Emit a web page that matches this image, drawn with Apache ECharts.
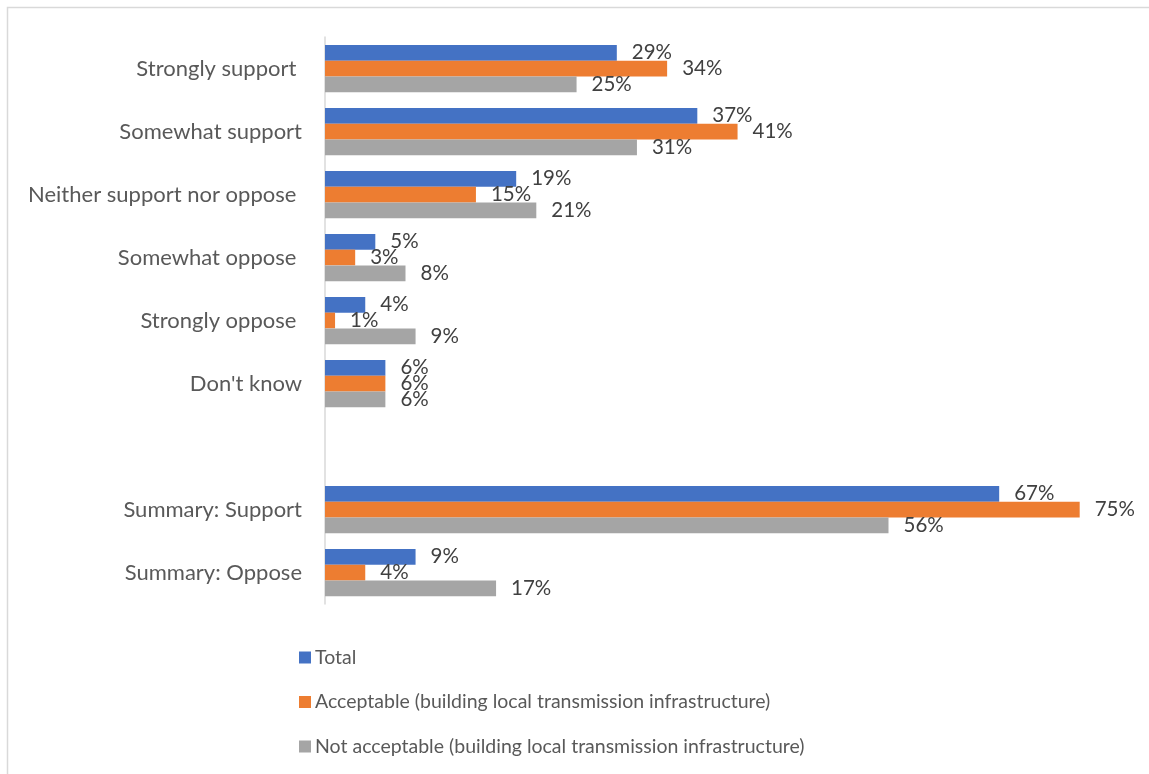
<!DOCTYPE html>
<html>
<head>
<meta charset="utf-8">
<script src="https://cdn.jsdelivr.net/npm/echarts@6/dist/echarts.min.js"></script>
<style>
  html, body { margin: 0; padding: 0; background: #ffffff; }
  #chart { width: 1149px; height: 774px; }
</style>
</head>
<body>
<div id="chart"></div>
<script>
// Survey answers, top to bottom; the empty entry spaces the summary rows apart
const categories = [
  'Strongly support ',
  'Somewhat support',
  'Neither support nor oppose ',
  'Somewhat oppose ',
  'Strongly oppose ',
  "Don't know",
  '',
  'Summary: Support',
  'Summary: Oppose'
];

const seriesNames = [
  'Total',
  'Acceptable (building local transmission infrastructure)',
  'Not acceptable (building local transmission infrastructure)'
];

// Percentages per answer, same order as categories (null = spacer row)
const totalValues        = [29, 37, 19, 5, 4, 6, null, 67, 9];
const acceptableValues   = [34, 41, 15, 3, 1, 6, null, 75, 4];
const notAcceptableValues = [25, 31, 21, 8, 9, 6, null, 56, 17];

const seriesColors = ['#4472C4', '#ED7D31', '#A5A5A5'];

const FONT = 'Lato, "Open Sans", sans-serif';

const chart = echarts.init(document.getElementById('chart'), null, { renderer: 'canvas' });

function barSeries(name, values, color) {
  return {
    name: name,
    type: 'bar',
    data: values.map(v => (v === null ? '-' : v)),
    barGap: '0%',
    barCategoryGap: '25%',
    itemStyle: { color: color },
    label: {
      show: true,
      position: 'right',
      distance: 15,
      formatter: p => p.value + '%',
      color: '#404040',
      fontFamily: FONT,
      fontSize: 20.5
    },
    emphasis: { disabled: true },
    animation: false
  };
}

chart.setOption({
  animation: false,
  backgroundColor: '#ffffff',
  graphic: [{
    type: 'rect',
    shape: { x: 7.5, y: 7.5, width: 1200, height: 800 },
    style: { fill: 'none', stroke: '#D9D9D9', lineWidth: 1.5 },
    silent: true,
    z: -1
  }],
  grid: { left: 325, top: 37, width: 805, height: 567, containLabel: false },
  xAxis: {
    type: 'value',
    min: 0,
    max: 80,
    show: false
  },
  yAxis: {
    type: 'category',
    data: categories,
    inverse: true,
    axisLine: { show: true, lineStyle: { color: '#D9D9D9', width: 1.5 } },
    axisTick: { show: false },
    axisLabel: {
      color: '#595959',
      fontFamily: FONT,
      fontSize: 22,
      margin: 23
    },
    splitLine: { show: false }
  },
  legend: seriesNames.map((name, i) => ({
    data: [name],
    orient: 'vertical',
    left: 294,
    top: 642.5 + i * 44.5,
    icon: 'rect',
    itemWidth: 12,
    itemHeight: 12,
    itemGap: 5,
    selectedMode: false,
    textStyle: { color: '#595959', fontFamily: FONT, fontSize: 19.5, padding: [0, 0, 0, -1] }
  })),
  series: [
    barSeries(seriesNames[0], totalValues, seriesColors[0]),
    barSeries(seriesNames[1], acceptableValues, seriesColors[1]),
    barSeries(seriesNames[2], notAcceptableValues, seriesColors[2])
  ]
});
</script>
</body>
</html>
